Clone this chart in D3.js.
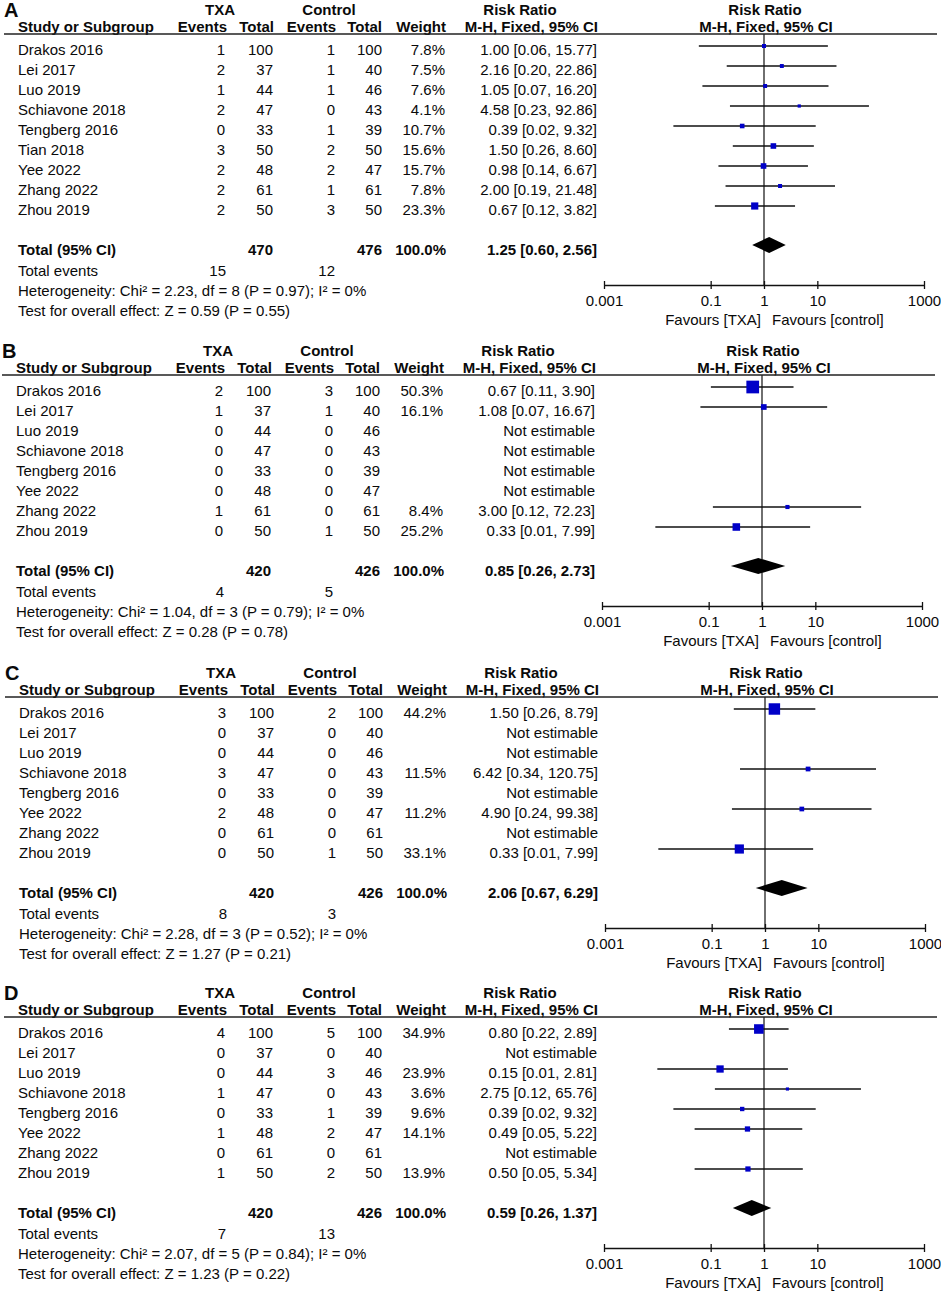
<!DOCTYPE html>
<html>
<head>
<meta charset="utf-8">
<script src="https://cdn.jsdelivr.net/npm/d3@7"></script>
<style>
body { margin: 0; background: #fff; }
svg text { font-family: "Liberation Sans", Arial, sans-serif; font-size: 15px; fill: #0a0a0a; }
</style>
</head>
<body>
<script>
// studies
var namesA = ['Drakos 2016', 'Lei 2017', 'Luo 2019', 'Schiavone 2018', 'Tengberg 2016', 'Tian 2018', 'Yee 2022', 'Zhang 2022', 'Zhou 2019'];
var namesBCD = ['Drakos 2016', 'Lei 2017', 'Luo 2019', 'Schiavone 2018', 'Tengberg 2016', 'Yee 2022', 'Zhang 2022', 'Zhou 2019'];
var txaTotalA = [100, 37, 44, 47, 33, 50, 48, 61, 50];
var ctlTotalA = [100, 40, 46, 43, 39, 50, 47, 61, 50];
var txaTotalBCD = [100, 37, 44, 47, 33, 48, 61, 50];
var ctlTotalBCD = [100, 40, 46, 43, 39, 47, 61, 50];

// panel A
var txaEventsA = [1, 2, 1, 2, 0, 3, 2, 2, 2];
var ctlEventsA = [1, 1, 1, 0, 1, 2, 2, 1, 3];
var weightA = [7.8, 7.5, 7.6, 4.1, 10.7, 15.6, 15.7, 7.8, 23.3];
var rrA = [1.00, 2.16, 1.05, 4.58, 0.39, 1.50, 0.98, 2.00, 0.67];
var lowA = [0.06, 0.20, 0.07, 0.23, 0.02, 0.26, 0.14, 0.19, 0.12];
var highA = [15.77, 22.86, 16.20, 92.86, 9.32, 8.60, 6.67, 21.48, 3.82];

// panel B
var txaEventsB = [2, 1, 0, 0, 0, 0, 1, 0];
var ctlEventsB = [3, 1, 0, 0, 0, 0, 0, 1];
var weightB = [50.3, 16.1, null, null, null, null, 8.4, 25.2];
var rrB = [0.67, 1.08, null, null, null, null, 3.00, 0.33];
var lowB = [0.11, 0.07, null, null, null, null, 0.12, 0.01];
var highB = [3.90, 16.67, null, null, null, null, 72.23, 7.99];

// panel C
var txaEventsC = [3, 0, 0, 3, 0, 2, 0, 0];
var ctlEventsC = [2, 0, 0, 0, 0, 0, 0, 1];
var weightC = [44.2, null, null, 11.5, null, 11.2, null, 33.1];
var rrC = [1.50, null, null, 6.42, null, 4.90, null, 0.33];
var lowC = [0.26, null, null, 0.34, null, 0.24, null, 0.01];
var highC = [8.79, null, null, 120.75, null, 99.38, null, 7.99];

// panel D
var txaEventsD = [4, 0, 0, 1, 0, 1, 0, 1];
var ctlEventsD = [5, 0, 3, 0, 1, 2, 0, 2];
var weightD = [34.9, null, 23.9, 3.6, 9.6, 14.1, null, 13.9];
var rrD = [0.80, null, 0.15, 2.75, 0.39, 0.49, null, 0.50];
var lowD = [0.22, null, 0.01, 0.12, 0.02, 0.05, null, 0.05];
var highD = [2.89, null, 2.81, 65.76, 9.32, 5.22, null, 5.34];

// pooled results, A to D
var panelLetters = ['A', 'B', 'C', 'D'];
var sumTxa = [470, 420, 420, 420];
var sumCtl = [476, 426, 426, 426];
var sumEventsTxa = [15, 4, 8, 7];
var sumEventsCtl = [12, 5, 3, 13];
var pooledRR = [1.25, 0.85, 2.06, 0.59];
var pooledLow = [0.60, 0.26, 0.67, 0.26];
var pooledHigh = [2.56, 2.73, 6.29, 1.37];
var heterogeneity = [
  'Heterogeneity: Chi\u00b2 = 2.23, df = 8 (P = 0.97); I\u00b2 = 0%',
  'Heterogeneity: Chi\u00b2 = 1.04, df = 3 (P = 0.79); I\u00b2 = 0%',
  'Heterogeneity: Chi\u00b2 = 2.28, df = 3 (P = 0.52); I\u00b2 = 0%',
  'Heterogeneity: Chi\u00b2 = 2.07, df = 5 (P = 0.84); I\u00b2 = 0%'
];
var overallTest = [
  'Test for overall effect: Z = 0.59 (P = 0.55)',
  'Test for overall effect: Z = 0.28 (P = 0.78)',
  'Test for overall effect: Z = 1.27 (P = 0.21)',
  'Test for overall effect: Z = 1.23 (P = 0.22)'
];
var tickValues = [0.001, 0.1, 1, 10, 1000];
var tickLabels = ['0.001', '0.1', '1', '10', '1000'];

function buildRows(names, te, tt, ce, ct, w, rr, lo, hi) {
  return names.map(function(n, i) {
    return {i: i, name: n, te: te[i], tt: tt[i], ce: ce[i], ct: ct[i], w: w[i], rr: rr[i], lo: lo[i], hi: hi[i]};
  });
}

var panels = [
  buildRows(namesA, txaEventsA, txaTotalA, ctlEventsA, ctlTotalA, weightA, rrA, lowA, highA),
  buildRows(namesBCD, txaEventsB, txaTotalBCD, ctlEventsB, ctlTotalBCD, weightB, rrB, lowB, highB),
  buildRows(namesBCD, txaEventsC, txaTotalBCD, ctlEventsC, ctlTotalBCD, weightC, rrC, lowC, highC),
  buildRows(namesBCD, txaEventsD, txaTotalBCD, ctlEventsD, ctlTotalBCD, weightD, rrD, lowD, highD)
];

var width = 941;
var height = 1292;
var panelTop = [34, 375, 697, 1017];
var panelShift = [0, -2, 1, 0];

var svg = d3.select('body')
.append('svg')
.attr('width', width)
.attr('height', height);

var boxSize = d3.scaleLinear().domain([0, 100]).range([2.4, 22.9]);
var f2 = d3.format('.2f');
var f1 = d3.format('.1f');
var blue = '#0000c8';

function label(g, x, y, s, anchor, bold, size) {
  return g.append('text')
  .attr('x', x)
  .attr('y', y)
  .attr('text-anchor', anchor || 'start')
  .style('font-weight', bold ? 'bold' : null)
  .style('font-size', size ? size + 'px' : null)
  .text(s);
}

function ciText(rr, lo, hi) {
  return f2(rr) + ' [' + f2(lo) + ', ' + f2(hi) + ']';
}

panels.forEach(function(rows, k) {
  var g = svg.append('g')
  .attr('transform', 'translate(' + panelShift[k] + ',' + panelTop[k] + ')');

  var x = d3.scaleLog().domain([0.001, 1000]).range([604, 924]);
  var n = rows.length;
  var ciY = function(i) { return 12 + 20 * i; };
  var textY = function(i) { return 21 + 20 * i; };
  var diamondY = ciY(n - 1) + 39;
  var axisY = diamondY + 40;
  var totalY = textY(n - 1) + 40;

  // header
  label(g, 4, -17, panelLetters[k], 'start', true, 20);
  label(g, 220, -19, 'TXA', 'middle', true);
  label(g, 329, -19, 'Control', 'middle', true);
  label(g, 520, -19, 'Risk Ratio', 'middle', true);
  label(g, x(1) + 1, -19, 'Risk Ratio', 'middle', true);
  label(g, 18, -2, 'Study or Subgroup', 'start', true);
  label(g, 227, -2, 'Events', 'end', true);
  label(g, 274, -2, 'Total', 'end', true);
  label(g, 336, -2, 'Events', 'end', true);
  label(g, 382, -2, 'Total', 'end', true);
  label(g, 446, -2, 'Weight', 'end', true);
  label(g, 598, -2, 'M-H, Fixed, 95% CI', 'end', true);
  label(g, x(1) + 2, -2, 'M-H, Fixed, 95% CI', 'middle', true);

  g.append('line')
  .attr('x1', 4).attr('x2', 937)
  .attr('y1', 0).attr('y2', 0)
  .attr('stroke', '#222').attr('stroke-width', 1.3);

  // study rows
  var row = g.selectAll('g.row')
  .data(rows)
  .enter().append('g')
  .attr('class', 'row')
  .attr('transform', function(d) { return 'translate(0,' + textY(d.i) + ')'; });

  row.append('text').attr('x', 18).text(function(d) { return d.name; });
  row.append('text').attr('x', 225).attr('text-anchor', 'end').text(function(d) { return d.te; });
  row.append('text').attr('x', 273).attr('text-anchor', 'end').text(function(d) { return d.tt; });
  row.append('text').attr('x', 335).attr('text-anchor', 'end').text(function(d) { return d.ce; });
  row.append('text').attr('x', 382).attr('text-anchor', 'end').text(function(d) { return d.ct; });
  row.append('text').attr('x', 445).attr('text-anchor', 'end')
  .text(function(d) { return d.w == null ? '' : f1(d.w) + '%'; });
  row.append('text').attr('x', 597).attr('text-anchor', 'end')
  .text(function(d) { return d.rr == null ? 'Not estimable' : ciText(d.rr, d.lo, d.hi); });

  // null line
  g.append('line')
  .attr('x1', x(1)).attr('x2', x(1))
  .attr('y1', 0).attr('y2', axisY)
  .attr('stroke', '#222').attr('stroke-width', 1.3);

  var est = rows.filter(function(d) { return d.rr != null; });

  g.selectAll('line.ci')
  .data(est)
  .enter().append('line')
  .attr('class', 'ci')
  .attr('x1', function(d) { return x(d.lo); })
  .attr('x2', function(d) { return x(d.hi); })
  .attr('y1', function(d) { return ciY(d.i); })
  .attr('y2', function(d) { return ciY(d.i); })
  .attr('stroke', '#111').attr('stroke-width', 1.3);

  g.selectAll('rect.box')
  .data(est)
  .enter().append('rect')
  .attr('class', 'box')
  .attr('x', function(d) { return x(d.rr) - boxSize(d.w) / 2; })
  .attr('y', function(d) { return ciY(d.i) - boxSize(d.w) / 2; })
  .attr('width', function(d) { return boxSize(d.w); })
  .attr('height', function(d) { return boxSize(d.w); })
  .attr('fill', blue);

  // total
  label(g, 18, totalY, 'Total (95% CI)', 'start', true);
  label(g, 273, totalY, sumTxa[k], 'end', true);
  label(g, 382, totalY, sumCtl[k], 'end', true);
  label(g, 446, totalY, '100.0%', 'end', true);
  label(g, 597, totalY, ciText(pooledRR[k], pooledLow[k], pooledHigh[k]), 'end', true);

  g.append('path')
  .attr('d', 'M' + x(pooledLow[k]) + ',' + diamondY +
    'L' + x(pooledRR[k]) + ',' + (diamondY - 8) +
    'L' + x(pooledHigh[k]) + ',' + diamondY +
    'L' + x(pooledRR[k]) + ',' + (diamondY + 8) + 'Z')
  .attr('fill', '#000');

  label(g, 18, totalY + 21, 'Total events');
  label(g, 226, totalY + 21, sumEventsTxa[k], 'end');
  label(g, 335, totalY + 21, sumEventsCtl[k], 'end');
  label(g, 18, totalY + 41, heterogeneity[k]);
  label(g, 18, totalY + 61, overallTest[k]);

  // axis
  var axis = g.append('g')
  .attr('transform', 'translate(0,' + axisY + ')')
  .call(d3.axisBottom(x)
    .tickValues(tickValues)
    .tickFormat(function(d, i) { return tickLabels[i]; })
    .tickSize(4)
    .tickSizeOuter(0));
  axis.select('.domain').attr('stroke', '#111').attr('stroke-width', 1.5);
  axis.selectAll('.tick line').attr('y1', -4).attr('y2', 4).attr('stroke', '#111').attr('stroke-width', 1.3);
  axis.selectAll('.tick text').attr('y', 10);

  label(g, x(1) - 3, axisY + 40, 'Favours [TXA]', 'end');
  label(g, x(1) + 8, axisY + 40, 'Favours [control]', 'start');
});
</script>
</body>
</html>
